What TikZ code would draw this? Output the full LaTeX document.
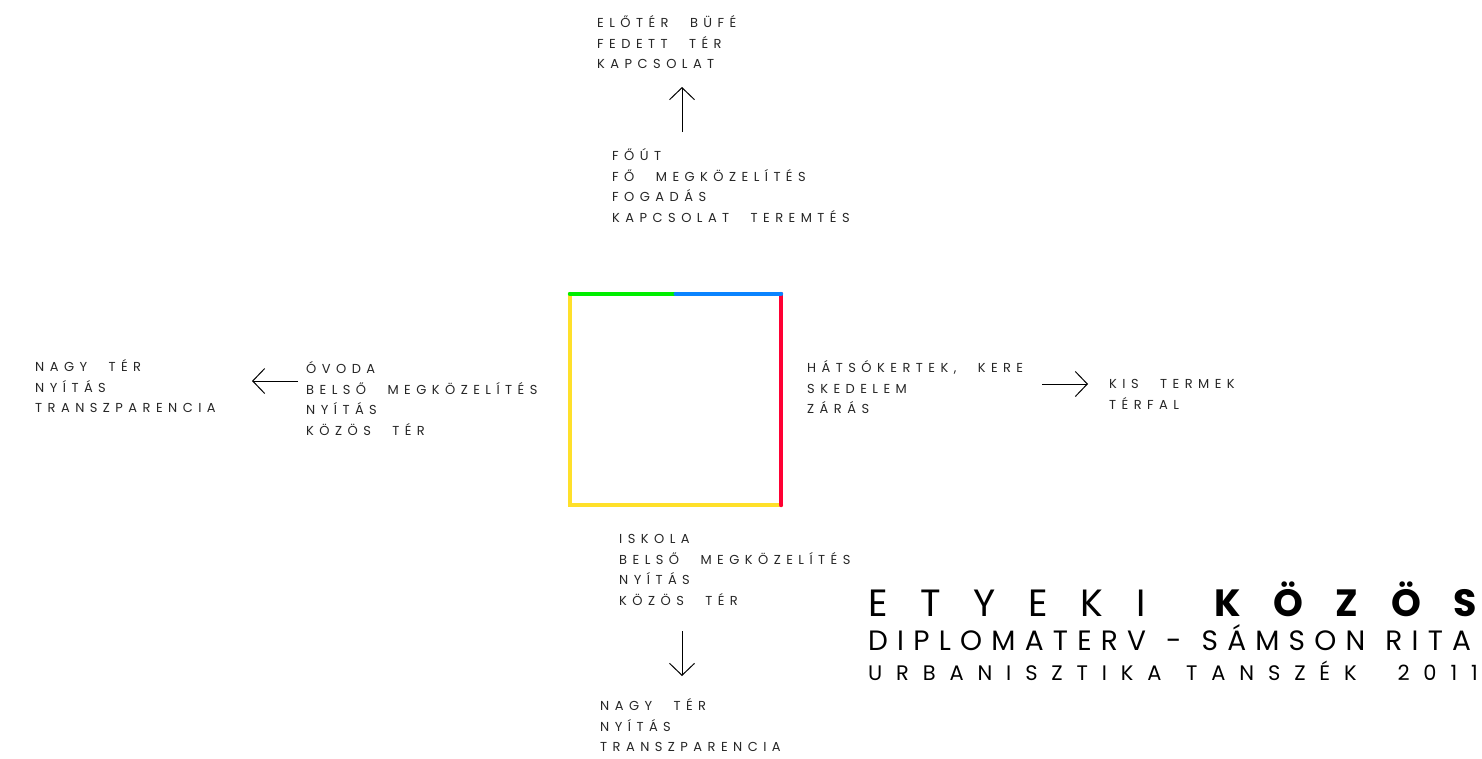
\documentclass[tikz,border=0pt]{standalone}
\usepackage{fontspec}
\usetikzlibrary{arrows.meta, positioning}
\newfontfamily\labelfont[LetterSpace=42, WordSpace=2.4]{Poppins}
\newfontfamily\titlefont[LetterSpace=86, WordSpace=0.84]{Poppins}
\newfontfamily\subfont[LetterSpace=33, WordSpace=1.2]{Poppins}
\newfontfamily\deptfont[LetterSpace=66]{Poppins}
\definecolor{zold}{HTML}{00EE00}
\definecolor{kek}{HTML}{0A84FF}
\definecolor{piros}{HTML}{FF0033}
\definecolor{sarga}{HTML}{FFE02A}

\begin{document}
\begin{tikzpicture}[x=1pt, y=-1pt,
      txt/.style={anchor=base west, inner sep=0pt, align=left,
                  font=\labelfont\fontsize{13}{20.5}\selectfont, text=black!85},
      dept/.style={inner sep=0pt, font=\deptfont\fontsize{21}{21}\selectfont},
      arrow/.style={-{Straight Barb[length=12pt, width=25pt]}, line width=1pt},
      side/.style={line width=4pt, line cap=round} ]
    \useasboundingbox[fill=white] (0,0) rectangle (1482,758);

    % central square
    \node[minimum size=211pt, inner sep=0pt] (sq) at (675.5,399.5) {};
    \draw[side, sarga] (sq.north west) -- (sq.south west) -- (sq.south east);
    \draw[side, piros] (sq.north east) -- (sq.south east);
    \draw[side, zold] (sq.north west) -- (sq.north);
    \draw[side, kek] (sq.north) -- (sq.north east);

    % texts (placed at the baseline of the last line)
    \node[txt] (eloter) at (597,68.5) {ELŐTÉR BÜFÉ\\FEDETT TÉR\\KAPCSOLAT};
    \node[txt] (fout) at (612,222) {FŐÚT\\FŐ MEGKÖZELÍTÉS\\FOGADÁS\\KAPCSOLAT TEREMTÉS};
    \node[txt] (ovoda) at (306,435) {ÓVODA\\BELSŐ MEGKÖZELÍTÉS\\NYÍTÁS\\KÖZÖS TÉR};
    \node[txt] (nagybal) at (35,412.5) {NAGY TÉR\\NYÍTÁS\\TRANSZPARENCIA};
    \node[txt] (hatso) at (807,413.5) {HÁTSÓKERTEK, KERE\\SKEDELEM\\ZÁRÁS};
    \node[txt] (kis) at (1109,409) {KIS TERMEK\\TÉRFAL};
    \node[txt] (iskola) at (619,605) {ISKOLA\\BELSŐ MEGKÖZELÍTÉS\\NYÍTÁS\\KÖZÖS TÉR};
    \node[txt] (nagyle) at (600,751.5) {NAGY TÉR\\NYÍTÁS\\TRANSZPARENCIA};

    % arrow ends
    \coordinate (fel1) at (682,132);
    \coordinate (fel2) at (682,87);
    \coordinate (bal1) at (298,381);
    \coordinate (bal2) at (252,381);
    \coordinate (jobb1) at (1042,384);
    \coordinate (jobb2) at (1088,384);
    \coordinate (le1) at (682,631);
    \coordinate (le2) at (682,676);
    \draw[arrow] (fel1) -- (fel2);
    \draw[arrow] (bal1) -- (bal2);
    \draw[arrow] (jobb1) -- (jobb2);
    \draw[arrow] (le1) -- (le2);

    % title
    \node[anchor=base west, inner sep=0pt, font=\titlefont\fontsize{38}{38}\selectfont] (cim) at (868,616)
      {ETYEKI \textbf{KÖZÖS}};
    \node[anchor=base west, inner sep=0pt, font=\subfont\fontsize{28}{28}\selectfont] (diploma) at (868,650)
      {DIPLOMATERV - SÁMSON RITA};
    \node[dept, anchor=base west] (urb) at (868,680) {URBANISZTIKA};
    \node[dept, anchor=base west] (tansz) at (1186,680) {TANSZÉK};
    \node[dept, anchor=base east] (ev) at (1478,680) {2011};
  \end{tikzpicture}
\end{document}
